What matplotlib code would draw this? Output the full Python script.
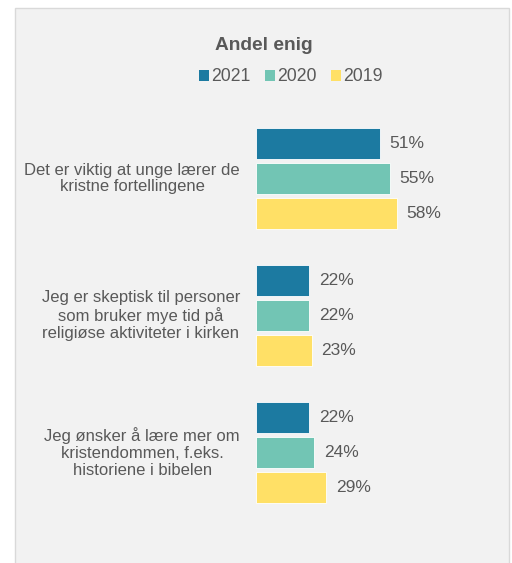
import matplotlib.pyplot as plt
import numpy as np
from matplotlib.patches import Rectangle, Patch

plt.rcParams['font.family'] = ['Liberation Sans', 'DejaVu Sans']

categories = ["Det er viktig at unge lærer de\nkristne fortellingene",
              "Jeg er skeptisk til personer\nsom bruker mye tid på\nreligiøse aktiviteter i kirken",
              "Jeg ønsker å lære mer om\nkristendommen, f.eks.\nhistoriene i bibelen"]
years = ["2021", "2020", "2019"]
v2021 = [51, 22, 22]
v2020 = [55, 22, 24]
v2019 = [58, 23, 29]

colors = ["#1c7aa1", "#72c5b4", "#ffe066"]
txt = "#595959"

fig = plt.figure(figsize=(5.12, 5.63), dpi=100)
fig.patch.set_facecolor("white")
# grey panel behind everything
fig.patches.append(Rectangle((15/512, -0.01), 494/512, 1 - 8/563 + 0.01,
                             transform=fig.transFigure, facecolor="#f2f2f2",
                             edgecolor="#d9d9d9", linewidth=1, zorder=-10))

ax = fig.add_axes([256/512, (563-534.7)/563, 243/512, (534.7-96.3)/563])
ax.set_facecolor("none")

y = np.arange(len(categories))
pitch = 0.252
h = 0.226
for k, (vals, c) in enumerate(zip([v2021, v2020, v2019], colors)):
    pos = y + (k - 1) * pitch
    ax.barh(pos, vals, height=h, color=c, edgecolor="white", linewidth=0.6)
    for p, v in zip(pos, vals):
        ax.text(v + 4, p, f"{v}%", va="center", ha="left", fontsize=12.5, color=txt)

for yi, cat in zip(y, categories):
    ax.text(-6.6, yi, cat, ha="right", va="center", multialignment="center",
            fontsize=12, color=txt, linespacing=1.15)

ax.set_xlim(0, 100)
ax.set_ylim(2.6, -0.6)
ax.axis("off")

fig.text(264/512, 1 - 45/563, "Andel enig", ha="center", va="center",
         fontsize=13.8, fontweight="bold", color=txt)
handles = [Patch(facecolor=c, edgecolor="none") for c in colors]
fig.legend(handles, years, loc="center", bbox_to_anchor=(291/512, 1 - 77/563),
           ncol=3, frameon=False, fontsize=12.7, labelcolor=txt,
           handlelength=0.55, handleheight=0.55, handletextpad=0.15, columnspacing=0.8)

fig.savefig("out.png", dpi=100)
